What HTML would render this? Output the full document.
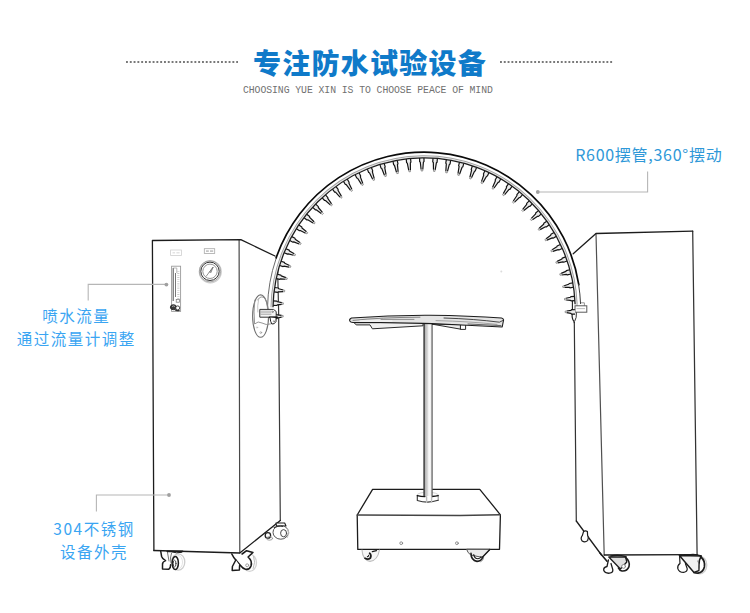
<!DOCTYPE html>
<html lang="zh-CN"><head><meta charset="utf-8"><title>专注防水试验设备</title>
<style>
html,body{margin:0;padding:0;background:#fff;}
body{width:750px;height:613px;position:relative;overflow:hidden;font-family:"Liberation Sans","Noto Sans CJK SC",sans-serif;}
.title{position:absolute;left:253px;top:41px;text-align:left;font-weight:900;font-size:28px;line-height:42px;color:#0f7ac9;letter-spacing:1.25px;white-space:nowrap;font-family:"Noto Sans CJK SC","Liberation Sans",sans-serif;}
.sub{position:absolute;left:243px;top:83.3px;font-family:"Liberation Mono",monospace;font-size:9.8px;line-height:14px;color:#707070;white-space:nowrap;letter-spacing:-0.07px;transform:scaleY(1.16);transform-origin:0 0;}
.lab{position:absolute;white-space:nowrap;font-family:"Noto Sans CJK SC","Liberation Sans",sans-serif;font-weight:400;text-align:center;line-height:23px;}
.l1{left:575.2px;top:143px;font-size:16px;color:#2f98d8;letter-spacing:0.72px;text-align:left;}
.l2{left:0;width:152.5px;top:303.5px;font-size:15.5px;color:#3aa5f2;letter-spacing:1.5px;}
.l3{left:33px;width:122px;top:516.5px;font-size:15.5px;color:#3aa5f2;letter-spacing:1.5px;}
</style></head><body>
<svg width="750" height="613" viewBox="0 0 750 613" style="position:absolute;left:0;top:0">

<g fill="none" stroke="#1c1c1c" stroke-width="1.3" stroke-linejoin="round" stroke-linecap="round">
  <path d="M152.4,240.5 L239.2,239.7 L239.8,553 L153.9,550.5 Z" fill="#fff" stroke="none"/>
  <path d="M239.1,239.7 L239.8,553" stroke="#484848" stroke-width="1.2"/>
  <path d="M277.6,268 L278.6,310 L280.3,520.5" stroke="#3a3a3a" stroke-width="1.2"/>
  <path d="M153.9,550.5 L152.4,240.5 L240.8,239.6 L275,256"/>
  <path d="M153.9,550.5 L239.8,553 L280.3,520.5"/>
</g>
<g fill="none" stroke="#cfcfcf" stroke-width="0.8">
  <rect x="170.6" y="250" width="10.8" height="5.4"/>
  <path d="M172.5,252.8h2.6 M176.4,252.8h3.2" stroke="#e3e3e3" stroke-width="1.6"/>
  <rect x="204.3" y="248.7" width="10.4" height="4.9" stroke="#a8a8a8"/>
  <path d="M206,251.2h2.8 M210,251.2h3.2" stroke="#c4c4c4" stroke-width="1.8"/>
</g>
<g fill="none" stroke="#555" stroke-width="0.9">
  <rect x="171.6" y="266.2" width="9" height="45.2" stroke="#9a9a9a"/>
  <path d="M173.2,268V301" stroke="#3c3c3c"/>
  <path d="M175.5,273V297" stroke="#555" stroke-width="0.8"/>
  <path d="M173.2,268h3.6v5" stroke="#999" stroke-width="0.7"/>
  <path d="M178.3,271V300" stroke="#b9b9b9" stroke-width="2.2" stroke-dasharray="0.6 1.5"/>
  <rect x="176.2" y="299.6" width="3.2" height="2.6" stroke="#777" stroke-width="0.7"/>
  <ellipse cx="173.4" cy="307.2" rx="3" ry="2.5" fill="#3a3a3a" stroke="#222"/>
  <path d="M172,306.5 q1.5,-1.2 3,0" stroke="#ddd" stroke-width="0.7"/>
  <circle cx="177.7" cy="307.9" r="2" stroke="#333" fill="#fff"/>
  <path d="M175,309.8 q2,1.6 4.6,0.4" stroke="#333" stroke-width="1.2"/>
</g>
<g fill="none">
  <circle cx="210.3" cy="271.8" r="11" stroke="#cfcfcf" stroke-width="1.2"/>
  <circle cx="210" cy="271.3" r="10.6" stroke="#9c9c9c" stroke-width="0.9"/>
  <circle cx="210" cy="271.3" r="9.2" stroke="#2e2e2e" stroke-width="1.0"/>
  <circle cx="210" cy="271.3" r="7.2" stroke="#7a7a7a" stroke-width="0.8"/>
  <path d="M206,276.5 L213.2,267" stroke-width="0.8" stroke="#777"/>
  <path d="M209.2,272.4 L213.2,267 L210.8,272.9" stroke-width="0.6" stroke="#666" fill="#aaa"/>
</g>

<g fill="none" stroke="#1c1c1c" stroke-linejoin="round" stroke-linecap="round">
  <!-- front-left -->
  <ellipse cx="178.2" cy="562" rx="6.6" ry="8.2" stroke="#cdcdcd" stroke-width="1.3" fill="#fff"/>
  <ellipse cx="177.6" cy="562.2" rx="5" ry="7" stroke="#e4e4e4" stroke-width="1"/>
  <path d="M160.7,551 L161.6,556.4 Q162.5,559 165.6,560.6 Q162.2,562 162.5,564.5 L162.5,569 L168.8,569.3 Q170.8,567.5 170.6,564.8" stroke-width="1.5" fill="#fff"/>
  <path d="M167.5,552.5 L169,561 M171.5,553 Q169.6,558 171,563" stroke="#666" stroke-width="0.9"/>
  <ellipse cx="175.3" cy="563" rx="3.1" ry="6.6" stroke-width="1.5" fill="#fff"/>
  <ellipse cx="174.6" cy="563.6" rx="1.4" ry="3.4" stroke="#444" stroke-width="1"/>
  <path d="M167.3,551.3 H182.6" stroke-width="1.7"/>
  <path d="M172.4,552 Q176,553.6 181.5,552.4" stroke-width="1"/>
  <!-- front-right -->
  <ellipse cx="249.6" cy="562.8" rx="6.9" ry="8.6" stroke="#d2d2d2" stroke-width="1.3" fill="#fff"/>
  <path d="M253.6,556.5 Q256,562 253.2,568.5" stroke="#bdbdbd" stroke-width="1"/>
  <path d="M242.1,554 L246.6,550.7 L252.9,552.5 L248.1,557 Q252.6,561 251,566 Q249.5,570 245.5,569.3 Q243,568.8 240.5,565.5 L235.8,560 Q233.5,557.5 231.8,554" stroke-width="1.6" fill="#fff"/>
  <path d="M235.8,560 L232.4,566.5 L232.2,570.5 L239.4,570 L239.6,565.5" stroke-width="1.5" fill="#fff"/>
  <circle cx="247.2" cy="565.3" r="1.5" stroke="#999" stroke-width="0.9"/>
  <!-- back-right -->
  <path d="M276,523 H284.7 L286,526 H276.5 Z" fill="#fff" stroke-width="1.1"/>
  <ellipse cx="280.8" cy="532.3" rx="7.8" ry="6.9" stroke="#555" stroke-width="1" fill="#fff"/>
  <path d="M274.2,527.5 Q278,525.8 283,526.4" stroke="#333" stroke-width="1.1"/>
  <ellipse cx="283.6" cy="533.2" rx="3" ry="3.6" stroke="#444" stroke-width="1"/>
  <path d="M287.8,529 Q290.2,533 287.4,537.6" stroke="#c4c4c4" stroke-width="1"/>
  <circle cx="267.9" cy="535.4" r="2.7" stroke="#222" stroke-width="1.3" fill="#fff"/>
  <ellipse cx="269.6" cy="538.4" rx="3" ry="1.8" stroke="#9a9a9a" stroke-width="0.9"/>
</g>


<g fill="none" stroke="#1c1c1c" stroke-width="1.3" stroke-linejoin="round" stroke-linecap="round">
  <path d="M596,233.5 L692.7,231.2 L697.1,554.6 L604.2,555 Z" fill="#fff" stroke="none"/>
  <path d="M596,233.5 L604.2,555" stroke="#505050" stroke-width="1.2"/>
  <path d="M692.7,231.2 L697.1,554.6" stroke="#333" stroke-width="1.25"/>
  <path d="M574.3,322 L576.3,521" stroke="#333" stroke-width="1.2"/>
  <path d="M573.2,253.7 L596,233.5 L692.7,231.2"/>
  <path d="M604.2,555 L697.1,554.6"/>
  <path d="M576.3,521 L601.5,555"/>
</g>
<g fill="none" stroke="#1c1c1c" stroke-width="1">
  <path d="M577,306 V302.8 H584.4 V306" fill="#fff" stroke="#8a8a8a" stroke-width="0.9"/>
  <rect x="575" y="305.8" width="11.8" height="6.4" fill="#fff" stroke="#5a5a5a" stroke-width="1"/>
  <path d="M576.5,308.6h8.5" stroke="#b5b5b5" stroke-width="0.9"/>
  <path d="M572.4,300 V313 Q571.4,318 573.8,321.2 L574.4,323" stroke="#222" stroke-width="1.1"/>
  <path d="M576.4,312.4 Q576.8,318 574.6,321.4" stroke="#333" stroke-width="1"/>
</g>

<g fill="none" stroke="#1c1c1c" stroke-linejoin="round" stroke-linecap="round">
  <!-- rear small -->
  <path d="M583.6,531.4 Q585.6,530.4 587.4,531.6 L587.6,535.2 Q589,538 587.6,540.6 Q585,542.8 582.2,541 Q580,538.4 582.4,535.4 Z" fill="#fff" stroke-width="1.2"/>
  <!-- front-left -->
  <path d="M600,553 L607,561.2" stroke-width="1.6"/>
  <path d="M608.4,560 L607,566.5 Q603,567.6 603.8,570.6 Q605,573.6 609.5,573.2 Q613.2,572.6 612.8,569.6 L611,563.5" fill="#fff" stroke-width="1.3"/>
  <path d="M608.8,557 H625.6 L626.8,562 L620.4,569 Z" fill="#e0e0e0" stroke-width="1.3"/>
  <path d="M625.6,557.4 Q630.4,561.5 629,566.6 Q627,571.4 622,571 Q619.4,570.4 618.4,568" stroke-width="1.6"/>
  <circle cx="623.6" cy="566.4" r="1.9" stroke="#8a8a8a" stroke-width="1" fill="#fff"/>
  <path d="M611,556 Q618,554 626,556.6" stroke-width="1.5"/>
  <!-- front-right -->
  <ellipse cx="699.6" cy="565" rx="7.2" ry="8.8" stroke="#cfcfcf" stroke-width="1.3" fill="#fff"/>
  <path d="M679.6,556 L680,563.6 Q677.2,565.4 677.8,568.6 Q679,572.4 683.6,572.4 Q687.6,571.6 687.2,568.6 L685.4,563.5" fill="#fff" stroke-width="1.2"/>
  <path d="M701,557 Q705.4,561 704.4,567 Q703,572.4 698,573.2 Q695.4,573.2 694,572.5" stroke-width="1.7"/>
  <path d="M679.4,555.6 L701.2,556 L699.4,560.4 L698.8,570.6 L694,572.5 Z" fill="#f1f1f1" stroke-width="1.5"/>
  <path d="M698,561 Q700.6,565 698.6,569.5" stroke="#666" stroke-width="1"/>
  <path d="M688,555 Q695,553.6 701,556" stroke-width="1.4"/>
</g>


<g fill="none" stroke="#1c1c1c" stroke-width="1.1" stroke-linejoin="round" stroke-linecap="round">
  <path d="M357.8,549.4 L499.5,549.3 L500.4,514.8 L479.8,489.3 L372.6,489.3 L357.2,515 Z" fill="#fff" stroke-width="1.3"/>
  <path d="M357.2,515 L460,515.5 L500.4,514.8" stroke="#444" stroke-width="1.4"/>
  <circle cx="401.2" cy="543.2" r="1.4" stroke="#777" stroke-width="0.8"/>
  <circle cx="456.9" cy="543.2" r="1.4" stroke="#777" stroke-width="0.8"/>
</g>
<g fill="none" stroke="#1c1c1c" stroke-width="1.1" stroke-linecap="round">
  <ellipse cx="427.8" cy="495.2" rx="10.8" ry="3" fill="#fff" stroke="#d0d0d0" stroke-width="0.9"/>
  <path d="M417.2,495.6 V500.4 Q427.8,503.8 438.4,500.4 V495.6 Q427.8,498.4 417.2,495.6 Z" fill="#fff" stroke="none"/>
  <path d="M438.2,495.8 V500.3" stroke="#8a8a8a" stroke-width="1"/>
  <path d="M417.3,495.6 V500.4 Q427.8,503.8 438.2,500.3" stroke="#333" stroke-width="1.1"/>
  <path d="M417.3,495.6 Q421,496.6 425,496.6 M432,496.5 Q435.5,496.3 438.2,495.6" stroke="#111" stroke-width="1.3"/>
  <path d="M426.6,496.8V502.4 M431.6,496.6V502.2" stroke="#bdbdbd" stroke-width="1.4"/>
</g>
<defs><linearGradient id="pole" x1="0" x2="1" y1="0" y2="0">
  <stop offset="0" stop-color="#777"/><stop offset="0.2" stop-color="#b8b8b8"/><stop offset="0.45" stop-color="#d8d8d8"/><stop offset="0.6" stop-color="#fafafa"/><stop offset="0.85" stop-color="#f0f0f0"/><stop offset="1" stop-color="#888"/>
</linearGradient></defs>
<rect x="423.6" y="324" width="8.8" height="172" fill="url(#pole)"/>
<path d="M424.1,324V496.4" stroke="#2a2a2a" stroke-width="1.1" fill="none"/><path d="M432.1,324V496.2" stroke="#555" stroke-width="0.9" fill="none"/>
<g fill="none" stroke="#1c1c1c" stroke-width="1.1" stroke-linejoin="round" stroke-linecap="round">
  <path d="M354.4,323 L356.2,324.9 L370,324.9 L372.4,328.8 L423,325.8 L423,323 Z" fill="#f0f0f0" stroke="#2a2a2a" stroke-width="1"/>
  <path d="M432.4,324.2 L460.8,329.2 V324.8 Z" fill="#ededed" stroke="#2a2a2a" stroke-width="1"/>
  <rect x="460.8" y="324.6" width="4.8" height="4.8" fill="#fff" stroke="#2a2a2a" stroke-width="1"/>
  <path d="M351.5,318 Q349,319 349.8,321 Q350.5,322.5 353,322.5 L380,322.5 L423,323.4 L432,323.6 L467,325.2 L502.2,327 L503.6,319.9 Q503.2,318.2 501.5,318 Q470,315.6 430,315.2 Q390,315 351.5,318 Z" fill="#e4e4e4"/>
  <path d="M353,320.4 Q380,317.4 420,317.2" stroke="#6a6a6a" stroke-width="0.8"/>
  <path d="M381,319.4 H414" stroke="#8c8c8c" stroke-width="1"/>
  <path d="M360,321 H392" stroke="#fafafa" stroke-width="1"/>
  <path d="M444,318 Q475,319 499.4,322.2 L502.6,320.6" stroke="#333" stroke-width="0.9"/>
  <path d="M436,320.6 Q470,321.4 497,324.4" stroke="#9a9a9a" stroke-width="0.9"/>
  <path d="M468,324 L501,325.6" stroke="#555" stroke-width="0.9"/>
</g>

<g fill="none" stroke="#1c1c1c" stroke-linejoin="round" stroke-linecap="round">
  <path d="M362,550 Q362.6,560 370,561.4 Q377.6,560.6 379.4,550" stroke="#bdbdbd" stroke-width="1.1" fill="#f7f7f7"/>
  <path d="M369.6,553.2 Q371.8,555.2 370.4,558 Q368,560 365,558.2" stroke-width="1.7"/>
  <path d="M367.4,556.6 Q368.4,556.8 368.6,555.4" stroke-width="1.1"/>
  <path d="M372.4,551.6 L376.4,550.6" stroke-width="1.4"/>
  <path d="M466.7,549.6 Q467.6,553 470.8,555 L482.2,557.4 L489.8,549.6 Z" fill="#ececec" stroke="#555" stroke-width="1"/>
  <path d="M471,553.4 Q471,560 477,561.4 Q481.6,561 483,557" stroke-width="1.6"/>
  <path d="M473.8,554.6 Q474.4,558.6 478,558.8 Q480.4,558.4 481,556.6" stroke-width="1.1"/>
  <path d="M482.2,557.4 L489.8,549.6" stroke-width="1.4"/>
  <path d="M483.6,558 Q483.4,560.6 480.6,561.8" stroke="#888" stroke-width="0.9"/>
</g>

<g transform="translate(424.1,0) scale(0.9935,1) translate(-424,0)"><g id="nozzles"><path d="M576.02,309.76 L572.42,309.72 L571.81,310.36 L566.00,311.08 L565.98,312.58 L571.77,313.46 L572.36,314.12 L575.96,314.16Z" fill="#ececec" stroke="none"/><path d="M576.02,309.76 L572.42,309.72 L571.81,310.36 L567.50,311.00 M575.96,314.16 L572.36,314.12 L571.77,313.46 L567.48,312.70" fill="none" stroke="#141414" stroke-width="1.2" stroke-linejoin="round"/><path d="M567.50,311.00 L566.00,311.08 L565.98,312.58 L567.48,312.70" fill="none" stroke="#8a8a8a" stroke-width="0.9" stroke-linejoin="round"/><path d="M575.40,296.28 L571.81,296.55 L571.26,297.24 L565.31,298.50 L565.42,299.99 L571.49,300.34 L572.14,300.94 L575.73,300.66Z" fill="#ececec" stroke="none"/><path d="M575.40,296.28 L571.81,296.55 L571.26,297.24 L566.80,298.29 M575.73,300.66 L572.14,300.94 L571.49,300.34 L566.92,299.98" fill="none" stroke="#141414" stroke-width="1.2" stroke-linejoin="round"/><path d="M566.80,298.29 L565.31,298.50 L565.42,299.99 L566.92,299.98" fill="none" stroke="#8a8a8a" stroke-width="0.9" stroke-linejoin="round"/><path d="M573.58,282.90 L570.03,283.49 L569.54,284.23 L563.47,286.05 L563.71,287.53 L570.05,287.29 L570.75,287.83 L574.30,287.24Z" fill="#ececec" stroke="none"/><path d="M573.58,282.90 L570.03,283.49 L569.54,284.23 L564.93,285.71 M574.30,287.24 L570.75,287.83 L570.05,287.29 L565.21,287.38" fill="none" stroke="#141414" stroke-width="1.2" stroke-linejoin="round"/><path d="M564.93,285.71 L563.47,286.05 L563.71,287.53 L565.21,287.38" fill="none" stroke="#8a8a8a" stroke-width="0.9" stroke-linejoin="round"/><path d="M570.59,269.74 L567.10,270.64 L566.68,271.42 L560.54,273.84 L560.92,275.29 L567.46,274.42 L568.21,274.90 L571.69,273.99Z" fill="#ececec" stroke="none"/><path d="M570.59,269.74 L567.10,270.64 L566.68,271.42 L561.97,273.36 M571.69,273.99 L568.21,274.90 L567.46,274.42 L562.40,275.01" fill="none" stroke="#141414" stroke-width="1.2" stroke-linejoin="round"/><path d="M561.97,273.36 L560.54,273.84 L560.92,275.29 L562.40,275.01" fill="none" stroke="#8a8a8a" stroke-width="0.9" stroke-linejoin="round"/><path d="M566.44,256.89 L563.05,258.10 L562.70,258.91 L556.55,261.95 L557.06,263.36 L563.74,261.83 L564.52,262.24 L567.91,261.03Z" fill="#ececec" stroke="none"/><path d="M566.44,256.89 L563.05,258.10 L562.70,258.91 L557.93,261.35 M567.91,261.03 L564.52,262.24 L563.74,261.83 L558.50,262.95" fill="none" stroke="#141414" stroke-width="1.2" stroke-linejoin="round"/><path d="M557.93,261.35 L556.55,261.95 L557.06,263.36 L558.50,262.95" fill="none" stroke="#8a8a8a" stroke-width="0.9" stroke-linejoin="round"/><path d="M561.16,244.46 L557.89,245.97 L557.62,246.81 L551.55,250.48 L552.17,251.85 L558.91,249.62 L559.73,249.96 L563.00,248.46Z" fill="#ececec" stroke="none"/><path d="M561.16,244.46 L557.89,245.97 L557.62,246.81 L552.87,249.77 M563.00,248.46 L559.73,249.96 L558.91,249.62 L553.58,251.31" fill="none" stroke="#141414" stroke-width="1.2" stroke-linejoin="round"/><path d="M552.87,249.77 L551.55,250.48 L552.17,251.85 L553.58,251.31" fill="none" stroke="#8a8a8a" stroke-width="0.9" stroke-linejoin="round"/><path d="M554.81,232.55 L551.68,234.34 L551.49,235.20 L545.56,239.52 L546.30,240.82 L553.03,237.89 L553.87,238.16 L556.99,236.37Z" fill="#ececec" stroke="none"/><path d="M554.81,232.55 L551.68,234.34 L551.49,235.20 L546.81,238.69 M556.99,236.37 L553.87,238.16 L553.03,237.89 L547.65,240.16" fill="none" stroke="#141414" stroke-width="1.2" stroke-linejoin="round"/><path d="M546.81,238.69 L545.56,239.52 L546.30,240.82 L547.65,240.16" fill="none" stroke="#8a8a8a" stroke-width="0.9" stroke-linejoin="round"/><path d="M547.42,221.25 L544.47,223.31 L544.35,224.19 L538.64,229.14 L539.50,230.37 L546.12,226.73 L546.98,226.92 L549.94,224.86Z" fill="#ececec" stroke="none"/><path d="M547.42,221.25 L544.47,223.31 L544.35,224.19 L539.81,228.20 M549.94,224.86 L546.98,226.92 L546.12,226.73 L540.78,229.60" fill="none" stroke="#141414" stroke-width="1.2" stroke-linejoin="round"/><path d="M539.81,228.20 L538.64,229.14 L539.50,230.37 L540.78,229.60" fill="none" stroke="#8a8a8a" stroke-width="0.9" stroke-linejoin="round"/><path d="M539.06,210.65 L536.30,212.96 L536.26,213.85 L530.85,219.43 L531.82,220.58 L538.25,216.22 L539.13,216.34 L541.89,214.02Z" fill="#ececec" stroke="none"/><path d="M539.06,210.65 L536.30,212.96 L536.26,213.85 L531.94,218.39 M541.89,214.02 L539.13,216.34 L538.25,216.22 L533.03,219.69" fill="none" stroke="#141414" stroke-width="1.2" stroke-linejoin="round"/><path d="M531.94,218.39 L530.85,219.43 L531.82,220.58 L533.03,219.69" fill="none" stroke="#8a8a8a" stroke-width="0.9" stroke-linejoin="round"/><path d="M529.79,200.83 L527.25,203.38 L527.29,204.27 L522.26,210.44 L523.32,211.50 L529.48,206.46 L530.36,206.49 L532.91,203.94Z" fill="#ececec" stroke="none"/><path d="M529.79,200.83 L527.25,203.38 L527.29,204.27 L523.24,209.31 M532.91,203.94 L530.36,206.49 L529.48,206.46 L524.45,210.51" fill="none" stroke="#141414" stroke-width="1.2" stroke-linejoin="round"/><path d="M523.24,209.31 L522.26,210.44 L523.32,211.50 L524.45,210.51" fill="none" stroke="#8a8a8a" stroke-width="0.9" stroke-linejoin="round"/><path d="M519.69,191.88 L517.38,194.64 L517.50,195.52 L512.92,202.26 L514.07,203.22 L519.88,197.51 L520.76,197.46 L523.07,194.70Z" fill="#ececec" stroke="none"/><path d="M519.69,191.88 L517.38,194.64 L517.50,195.52 L513.80,201.04 M523.07,194.70 L520.76,197.46 L519.88,197.51 L515.11,202.13" fill="none" stroke="#141414" stroke-width="1.2" stroke-linejoin="round"/><path d="M513.80,201.04 L512.92,202.26 L514.07,203.22 L515.11,202.13" fill="none" stroke="#8a8a8a" stroke-width="0.9" stroke-linejoin="round"/><path d="M508.83,183.86 L506.78,186.81 L506.97,187.68 L502.92,194.92 L504.15,195.78 L509.52,189.44 L510.40,189.32 L512.45,186.36Z" fill="#ececec" stroke="none"/><path d="M508.83,183.86 L506.78,186.81 L506.97,187.68 L503.69,193.63 M512.45,186.36 L510.40,189.32 L509.52,189.44 L505.09,194.60" fill="none" stroke="#141414" stroke-width="1.2" stroke-linejoin="round"/><path d="M503.69,193.63 L502.92,194.92 L504.15,195.78 L505.09,194.60" fill="none" stroke="#8a8a8a" stroke-width="0.9" stroke-linejoin="round"/><path d="M497.31,176.83 L495.52,179.96 L495.79,180.80 L492.33,188.50 L493.63,189.24 L498.49,182.33 L499.35,182.13 L501.13,179.00Z" fill="#ececec" stroke="none"/><path d="M497.31,176.83 L495.52,179.96 L495.79,180.80 L492.98,187.15 M501.13,179.00 L499.35,182.13 L498.49,182.33 L494.46,187.99" fill="none" stroke="#141414" stroke-width="1.2" stroke-linejoin="round"/><path d="M492.98,187.15 L492.33,188.50 L493.63,189.24 L494.46,187.99" fill="none" stroke="#8a8a8a" stroke-width="0.9" stroke-linejoin="round"/><path d="M485.20,170.85 L483.70,174.12 L484.05,174.94 L481.23,183.03 L482.59,183.65 L486.87,176.23 L487.71,175.95 L489.20,172.68Z" fill="#ececec" stroke="none"/><path d="M485.20,170.85 L483.70,174.12 L484.05,174.94 L481.76,181.62 M489.20,172.68 L487.71,175.95 L486.87,176.23 L483.31,182.33" fill="none" stroke="#141414" stroke-width="1.2" stroke-linejoin="round"/><path d="M481.76,181.62 L481.23,183.03 L482.59,183.65 L483.31,182.33" fill="none" stroke="#8a8a8a" stroke-width="0.9" stroke-linejoin="round"/><path d="M472.61,165.97 L471.41,169.36 L471.83,170.14 L469.70,178.54 L471.12,179.04 L474.75,171.18 L475.56,170.83 L476.76,167.43Z" fill="#ececec" stroke="none"/><path d="M472.61,165.97 L471.41,169.36 L471.83,170.14 L470.11,177.10 M476.76,167.43 L475.56,170.83 L474.75,171.18 L471.71,177.66" fill="none" stroke="#141414" stroke-width="1.2" stroke-linejoin="round"/><path d="M470.11,177.10 L469.70,178.54 L471.12,179.04 L471.71,177.66" fill="none" stroke="#8a8a8a" stroke-width="0.9" stroke-linejoin="round"/><path d="M459.64,162.22 L458.75,165.71 L459.23,166.45 L457.84,175.08 L459.29,175.46 L462.23,167.22 L463.01,166.80 L463.91,163.32Z" fill="#ececec" stroke="none"/><path d="M459.64,162.22 L458.75,165.71 L459.23,166.45 L458.12,173.61 M463.91,163.32 L463.01,166.80 L462.23,167.22 L459.76,174.03" fill="none" stroke="#141414" stroke-width="1.2" stroke-linejoin="round"/><path d="M458.12,173.61 L457.84,175.08 L459.29,175.46 L459.76,174.03" fill="none" stroke="#8a8a8a" stroke-width="0.9" stroke-linejoin="round"/><path d="M446.39,159.64 L445.81,163.20 L446.36,163.89 L445.73,172.67 L447.21,172.91 L449.41,164.39 L450.15,163.91 L450.73,160.35Z" fill="#ececec" stroke="none"/><path d="M446.39,159.64 L445.81,163.20 L446.36,163.89 L445.87,171.17 M450.73,160.35 L450.15,163.91 L449.41,164.39 L447.55,171.45" fill="none" stroke="#141414" stroke-width="1.2" stroke-linejoin="round"/><path d="M445.87,171.17 L445.73,172.67 L447.21,172.91 L447.55,171.45" fill="none" stroke="#8a8a8a" stroke-width="0.9" stroke-linejoin="round"/><path d="M432.96,158.25 L432.70,161.84 L433.30,162.49 L433.46,171.31 L434.95,171.42 L436.40,162.71 L437.09,162.16 L437.35,158.57Z" fill="#ececec" stroke="none"/><path d="M432.96,158.25 L432.70,161.84 L433.30,162.49 L433.47,169.81 M437.35,158.57 L437.09,162.16 L436.40,162.71 L435.16,169.93" fill="none" stroke="#141414" stroke-width="1.2" stroke-linejoin="round"/><path d="M433.47,169.81 L433.46,171.31 L434.95,171.42 L435.16,169.93" fill="none" stroke="#8a8a8a" stroke-width="0.9" stroke-linejoin="round"/><path d="M419.47,158.05 L419.52,161.65 L420.18,162.24 L421.12,171.03 L422.62,171.00 L423.28,162.19 L423.92,161.58 L423.87,157.98Z" fill="#ececec" stroke="none"/><path d="M419.47,158.05 L419.52,161.65 L420.18,162.24 L420.99,169.53 M423.87,157.98 L423.92,161.58 L423.28,162.19 L422.69,169.50" fill="none" stroke="#141414" stroke-width="1.2" stroke-linejoin="round"/><path d="M420.99,169.53 L421.12,171.03 L422.62,171.00 L422.69,169.50" fill="none" stroke="#8a8a8a" stroke-width="0.9" stroke-linejoin="round"/><path d="M406.00,159.05 L406.38,162.63 L407.09,163.16 L408.80,171.82 L410.29,171.66 L410.17,162.84 L410.75,162.18 L410.38,158.60Z" fill="#ececec" stroke="none"/><path d="M406.00,159.05 L406.38,162.63 L407.09,163.16 L408.54,170.33 M410.38,158.60 L410.75,162.18 L410.17,162.84 L410.23,170.16" fill="none" stroke="#141414" stroke-width="1.2" stroke-linejoin="round"/><path d="M408.54,170.33 L408.80,171.82 L410.29,171.66 L410.23,170.16" fill="none" stroke="#8a8a8a" stroke-width="0.9" stroke-linejoin="round"/><path d="M392.68,161.25 L393.37,164.78 L394.13,165.24 L396.59,173.67 L398.06,173.38 L397.17,164.65 L397.69,163.93 L397.00,160.40Z" fill="#ececec" stroke="none"/><path d="M392.68,161.25 L393.37,164.78 L394.13,165.24 L396.20,172.22 M397.00,160.40 L397.69,163.93 L397.17,164.65 L397.87,171.89" fill="none" stroke="#141414" stroke-width="1.2" stroke-linejoin="round"/><path d="M396.20,172.22 L396.59,173.67 L398.06,173.38 L397.87,171.89" fill="none" stroke="#8a8a8a" stroke-width="0.9" stroke-linejoin="round"/><path d="M379.61,164.61 L380.61,168.07 L381.40,168.46 L384.58,176.58 L386.02,176.16 L384.38,167.60 L384.84,166.84 L383.83,163.39Z" fill="#ececec" stroke="none"/><path d="M379.61,164.61 L380.61,168.07 L381.40,168.46 L384.07,175.17 M383.83,163.39 L384.84,166.84 L384.38,167.60 L385.70,174.69" fill="none" stroke="#141414" stroke-width="1.2" stroke-linejoin="round"/><path d="M384.07,175.17 L384.58,176.58 L386.02,176.16 L385.70,174.69" fill="none" stroke="#8a8a8a" stroke-width="0.9" stroke-linejoin="round"/><path d="M366.88,169.12 L368.19,172.48 L369.01,172.80 L372.87,180.52 L374.27,179.98 L371.90,171.68 L372.29,170.88 L370.98,167.53Z" fill="#ececec" stroke="none"/><path d="M366.88,169.12 L368.19,172.48 L369.01,172.80 L372.23,179.16 M370.98,167.53 L372.29,170.88 L371.90,171.68 L373.82,178.55" fill="none" stroke="#141414" stroke-width="1.2" stroke-linejoin="round"/><path d="M372.23,179.16 L372.87,180.52 L374.27,179.98 L373.82,178.55" fill="none" stroke="#8a8a8a" stroke-width="0.9" stroke-linejoin="round"/><path d="M354.61,174.75 L356.21,177.97 L357.06,178.22 L361.54,185.47 L362.88,184.81 L359.83,176.85 L360.15,176.02 L358.55,172.79Z" fill="#ececec" stroke="none"/><path d="M354.61,174.75 L356.21,177.97 L357.06,178.22 L360.78,184.17 M358.55,172.79 L360.15,176.02 L359.83,176.85 L362.31,183.42" fill="none" stroke="#141414" stroke-width="1.2" stroke-linejoin="round"/><path d="M360.78,184.17 L361.54,185.47 L362.88,184.81 L362.31,183.42" fill="none" stroke="#8a8a8a" stroke-width="0.9" stroke-linejoin="round"/><path d="M342.88,181.43 L344.76,184.51 L345.63,184.68 L350.67,191.40 L351.95,190.62 L348.27,183.06 L348.52,182.21 L346.64,179.14Z" fill="#ececec" stroke="none"/><path d="M342.88,181.43 L344.76,184.51 L345.63,184.68 L349.80,190.17 M346.64,179.14 L348.52,182.21 L348.27,183.06 L351.25,189.28" fill="none" stroke="#141414" stroke-width="1.2" stroke-linejoin="round"/><path d="M349.80,190.17 L350.67,191.40 L351.95,190.62 L351.25,189.28" fill="none" stroke="#8a8a8a" stroke-width="0.9" stroke-linejoin="round"/><path d="M331.80,189.14 L333.94,192.03 L334.82,192.13 L340.35,198.25 L341.55,197.36 L337.31,190.28 L337.48,189.41 L335.33,186.52Z" fill="#ececec" stroke="none"/><path d="M331.80,189.14 L333.94,192.03 L334.82,192.13 L339.37,197.11 M335.33,186.52 L337.48,189.41 L337.31,190.28 L340.74,196.09" fill="none" stroke="#141414" stroke-width="1.2" stroke-linejoin="round"/><path d="M339.37,197.11 L340.35,198.25 L341.55,197.36 L340.74,196.09" fill="none" stroke="#8a8a8a" stroke-width="0.9" stroke-linejoin="round"/><path d="M321.44,197.80 L323.83,200.49 L324.71,200.50 L330.65,205.99 L331.77,204.99 L327.03,198.45 L327.12,197.57 L324.73,194.87Z" fill="#ececec" stroke="none"/><path d="M321.44,197.80 L323.83,200.49 L324.71,200.50 L329.58,204.93 M324.73,194.87 L327.12,197.57 L327.03,198.45 L330.85,203.80" fill="none" stroke="#141414" stroke-width="1.2" stroke-linejoin="round"/><path d="M329.58,204.93 L330.65,205.99 L331.77,204.99 L330.85,203.80" fill="none" stroke="#8a8a8a" stroke-width="0.9" stroke-linejoin="round"/><path d="M311.89,207.34 L314.51,209.81 L315.39,209.75 L321.66,214.55 L322.69,213.46 L317.52,207.49 L317.53,206.60 L314.91,204.14Z" fill="#ececec" stroke="none"/><path d="M311.89,207.34 L314.51,209.81 L315.39,209.75 L320.50,213.60 M314.91,204.14 L317.53,206.60 L317.52,207.49 L321.66,212.36" fill="none" stroke="#141414" stroke-width="1.2" stroke-linejoin="round"/><path d="M320.50,213.60 L321.66,214.55 L322.69,213.46 L321.66,212.36" fill="none" stroke="#8a8a8a" stroke-width="0.9" stroke-linejoin="round"/><path d="M303.22,217.69 L306.05,219.92 L306.92,219.78 L313.43,223.88 L314.36,222.71 L308.84,217.34 L308.77,216.46 L305.94,214.23Z" fill="#ececec" stroke="none"/><path d="M303.22,217.69 L306.05,219.92 L306.92,219.78 L312.19,223.04 M305.94,214.23 L308.77,216.46 L308.84,217.34 L313.24,221.70" fill="none" stroke="#141414" stroke-width="1.2" stroke-linejoin="round"/><path d="M312.19,223.04 L313.43,223.88 L314.36,222.71 L313.24,221.70" fill="none" stroke="#8a8a8a" stroke-width="0.9" stroke-linejoin="round"/><path d="M295.51,228.77 L298.52,230.74 L299.38,230.52 L306.05,233.92 L306.87,232.66 L301.07,227.92 L300.93,227.05 L297.91,225.08Z" fill="#ececec" stroke="none"/><path d="M295.51,228.77 L298.52,230.74 L299.38,230.52 L304.74,233.18 M297.91,225.08 L300.93,227.05 L301.07,227.92 L305.67,231.76" fill="none" stroke="#141414" stroke-width="1.2" stroke-linejoin="round"/><path d="M304.74,233.18 L306.05,233.92 L306.87,232.66 L305.67,231.76" fill="none" stroke="#8a8a8a" stroke-width="0.9" stroke-linejoin="round"/><path d="M288.81,240.49 L291.99,242.18 L292.82,241.89 L299.56,244.57 L300.27,243.25 L294.28,239.15 L294.05,238.30 L290.88,236.60Z" fill="#ececec" stroke="none"/><path d="M288.81,240.49 L291.99,242.18 L292.82,241.89 L298.19,243.96 M290.88,236.60 L294.05,238.30 L294.28,239.15 L298.99,242.46" fill="none" stroke="#141414" stroke-width="1.2" stroke-linejoin="round"/><path d="M298.19,243.96 L299.56,244.57 L300.27,243.25 L298.99,242.46" fill="none" stroke="#8a8a8a" stroke-width="0.9" stroke-linejoin="round"/><path d="M283.17,252.76 L286.49,254.16 L287.29,253.80 L294.02,255.78 L294.61,254.40 L288.50,250.94 L288.20,250.11 L284.89,248.71Z" fill="#ececec" stroke="none"/><path d="M283.17,252.76 L286.49,254.16 L287.29,253.80 L292.60,255.28 M284.89,248.71 L288.20,250.11 L288.50,250.94 L293.27,253.72" fill="none" stroke="#141414" stroke-width="1.2" stroke-linejoin="round"/><path d="M292.60,255.28 L294.02,255.78 L294.61,254.40 L293.27,253.72" fill="none" stroke="#8a8a8a" stroke-width="0.9" stroke-linejoin="round"/><path d="M278.65,265.48 L282.08,266.58 L282.85,266.15 L289.49,267.45 L289.95,266.02 L283.80,263.20 L283.43,262.39 L280.00,261.29Z" fill="#ececec" stroke="none"/><path d="M278.65,265.48 L282.08,266.58 L282.85,266.15 L288.03,267.08 M280.00,261.29 L283.43,262.39 L283.80,263.20 L288.55,265.46" fill="none" stroke="#141414" stroke-width="1.2" stroke-linejoin="round"/><path d="M288.03,267.08 L289.49,267.45 L289.95,266.02 L288.55,265.46" fill="none" stroke="#8a8a8a" stroke-width="0.9" stroke-linejoin="round"/><path d="M275.27,278.55 L278.78,279.34 L279.51,278.84 L285.99,279.49 L286.32,278.03 L280.20,275.82 L279.76,275.05 L276.25,274.26Z" fill="#ececec" stroke="none"/><path d="M275.27,278.55 L278.78,279.34 L279.51,278.84 L284.51,279.26 M276.25,274.26 L279.76,275.05 L280.20,275.82 L284.88,277.60" fill="none" stroke="#141414" stroke-width="1.2" stroke-linejoin="round"/><path d="M284.51,279.26 L285.99,279.49 L286.32,278.03 L284.88,277.60" fill="none" stroke="#8a8a8a" stroke-width="0.9" stroke-linejoin="round"/><path d="M273.07,291.87 L276.64,292.35 L277.32,291.78 L283.57,291.82 L283.77,290.33 L277.73,288.71 L277.23,287.99 L273.66,287.51Z" fill="#ececec" stroke="none"/><path d="M273.07,291.87 L276.64,292.35 L277.32,291.78 L282.07,291.72 M273.66,287.51 L277.23,287.99 L277.73,288.71 L282.30,290.03" fill="none" stroke="#141414" stroke-width="1.2" stroke-linejoin="round"/><path d="M282.07,291.72 L283.57,291.82 L283.77,290.33 L282.30,290.03" fill="none" stroke="#8a8a8a" stroke-width="0.9" stroke-linejoin="round"/><path d="M272.06,305.33 L275.65,305.49 L276.28,304.87 L282.25,304.34 L282.31,302.84 L276.42,301.77 L275.85,301.10 L272.25,300.93Z" fill="#ececec" stroke="none"/><path d="M272.06,305.33 L275.65,305.49 L276.28,304.87 L280.74,304.37 M272.25,300.93 L275.85,301.10 L276.42,301.77 L280.82,302.67" fill="none" stroke="#141414" stroke-width="1.2" stroke-linejoin="round"/><path d="M280.74,304.37 L282.25,304.34 L282.31,302.84 L280.82,302.67" fill="none" stroke="#8a8a8a" stroke-width="0.9" stroke-linejoin="round"/><path d="M272.24,318.83 L275.84,318.67 L276.41,318.00 L282.17,316.94 L282.10,315.44 L276.27,314.90 L275.65,314.28 L272.05,314.43Z" fill="#ececec" stroke="none"/><path d="M272.24,318.83 L275.84,318.67 L276.41,318.00 L280.67,317.11 M272.05,314.43 L275.65,314.28 L276.27,314.90 L280.60,315.41" fill="none" stroke="#141414" stroke-width="1.2" stroke-linejoin="round"/><path d="M280.67,317.11 L282.17,316.94 L282.10,315.44 L280.60,315.41" fill="none" stroke="#8a8a8a" stroke-width="0.9" stroke-linejoin="round"/></g>
<path d="M269.02,307.29 A155.00,155.00 0 0 1 578.89,304.05" fill="none" stroke="#fff" stroke-width="5"/>
<path d="M270.02,307.31 A154.00,154.00 0 0 1 577.89,304.09" fill="none" stroke="#a2a2a2" stroke-width="1.3"/>
<path d="M270.92,307.33 A153.10,153.10 0 0 1 576.99,304.12" fill="none" stroke="#e2e2e2" stroke-width="1.2"/>
<path d="M271.92,307.35 A152.10,152.10 0 0 1 575.99,304.16" fill="none" stroke="#1c1c1c" stroke-width="1.25"/>
<path d="M266.42,307.25 A157.60,157.60 0 0 1 274.99,258.69" fill="none" stroke="#6a6a6a" stroke-width="1.0"/>
<path d="M274.80,258.63 A157.80,157.80 0 0 1 579.86,285.31" fill="none" stroke="#0a0a0a" stroke-width="1.7"/>
<path d="M579.44,283.99 A157.60,157.60 0 0 1 581.48,303.95" fill="none" stroke="#3a3a3a" stroke-width="1.0"/></g>

<g fill="none" stroke="#1c1c1c" stroke-width="1" stroke-linejoin="round" stroke-linecap="round">
  <ellipse cx="260.6" cy="316.1" rx="8" ry="21.2" fill="#fff" stroke="#6e6e6e" stroke-width="1.1"/>
  <path d="M257.6,300 Q261,294.5 265,298.5 Q267.5,302 267.6,309" stroke="#8a8a8a" stroke-width="0.9"/>
  <path d="M254.8,300 Q253.4,312 254.6,324 Q258,320.5 262,323 Q266,325.5 270.5,324" stroke="#8a8a8a" stroke-width="0.9"/>
  <path d="M258.6,299.5 Q257.2,306 257.8,312" stroke="#b5b5b5" stroke-width="0.8"/>
  <circle cx="260.8" cy="332.6" r="0.9" stroke="#999" stroke-width="0.7"/>
  <circle cx="257" cy="327.5" r="0.7" stroke="#bbb" stroke-width="0.6"/>
  <path d="M260.2,309.4 H273.5 L276.2,311.5 V317.2 H260.2 Z" fill="#f4f4f4" stroke="#333" stroke-width="1"/>
  <path d="M261,311.2H271 M261,312.8H271 M261,314.4H271" stroke="#9a9a9a" stroke-width="0.7"/>
  <circle cx="272.6" cy="311.8" r="0.7" stroke="#666" stroke-width="0.6"/>
  <path d="M269.5,317.2 H277.5" stroke="#111" stroke-width="1.5"/>
  <path d="M270,317.6 Q270.4,322 271.8,324 Q274.5,324.6 276,321.5 V318" fill="#fff" stroke="#222" stroke-width="1"/>
  <circle cx="273.9" cy="321.3" r="0.6" stroke="#666" stroke-width="0.6"/>
</g>


<g fill="none" stroke="#b6b6b6" stroke-width="1.1">
  <path d="M538,192 H647.6 V171.4"/>
  <path d="M166.5,284.4 H88.2 V300.4"/>
  <path d="M169,495 H96.4 V511.6"/>
</g>
<g fill="#a0a0a0">
  <circle cx="537.8" cy="192" r="1.9"/><circle cx="166.4" cy="284.6" r="1.9"/><circle cx="169" cy="495" r="1.9"/>
</g>
<circle cx="501.3" cy="271.6" r="1" fill="#dcdcdc"/>
<g stroke="#787878" stroke-width="1.9" stroke-dasharray="1.9 1.9" fill="none">
  <path d="M126,62 H238"/><path d="M500,62 H613"/>
</g>

</svg>
<div class="title">专注防水试验设备</div>
<div class="sub">CHOOSING YUE XIN IS TO CHOOSE PEACE OF MIND</div>
<div class="lab l1">R600摆管,360°摆动</div>
<div class="lab l2">喷水流量<br>通过流量计调整</div>
<div class="lab l3">304不锈钢<br>设备外壳</div>
</body></html>
